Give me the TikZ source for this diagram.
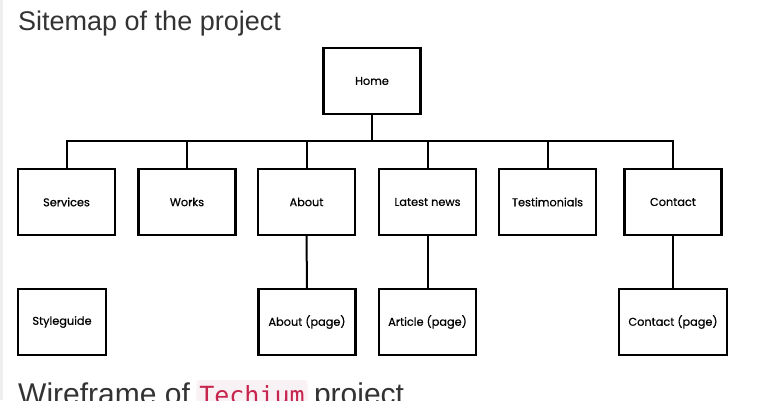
\documentclass[tikz,border=0pt]{standalone}
\usepackage{fontspec}
\setmainfont{Liberation Sans}
\newfontfamily\boxfont[FakeBold=0.6]{Poppins}
\newfontfamily\codefont{DejaVu Sans Mono}
\usetikzlibrary{positioning}
\definecolor{headgray}{HTML}{333333}
\definecolor{codered}{HTML}{C7254E}
\definecolor{codebg}{HTML}{F9F2F4}
\definecolor{rulegray}{HTML}{EEEEEE}
\begin{document}
\begin{tikzpicture}[x=1pt, y=-1pt,
        page/.style={draw, line width=2.2pt, minimum width=97pt, minimum height=66pt, font=\boxfont\fontsize{11.3}{13}\selectfont, align=center, inner sep=0pt},
        link/.style={line width=2pt},
        heading/.style={font=\fontsize{27}{30}\selectfont, text=headgray, inner sep=0pt},
        code/.style={font=\codefont\fontsize{25}{28}\selectfont, text=codered, fill=codebg, rounded corners=3pt, inner xsep=3pt, inner ysep=5pt}
    ]
        \clip (0,0) rectangle (760,400);
        \fill[white] (0,0) rectangle (760,400);
        \fill[rulegray] (0,0) rectangle (3,400);

        % Titles
        \node[heading, anchor=base west] (sitemap) at (18,30) {Sitemap of the project};
        \node[heading, font=\fontsize{30}{33}\selectfont, anchor=base west] (wire) at (18,404) {Wireframe of};
        \node[code, anchor=base west] (techium) at ([xshift=6pt]wire.base east) {Techium};
        \node[heading, font=\fontsize{30}{33}\selectfont, anchor=base west] (proj) at ([xshift=6pt]techium.base east) {project};

        % Root
        \node[page] (home) at (372,81) {Home};
        \coordinate (bar) at (372,141);

        % Level 1 pages
        \node[page] (services) at (66.5,202) {Services};
        \node[page] (works) at (187,202) {Works};
        \node[page] (about) at (306.5,202) {About};
        \node[page] (news) at (427.5,202) {Latest news};
        \node[page] (testimonials) at (547.5,202) {Testimonials};
        \node[page] (contact) at (673,202) {Contact};

        % Level 2 pages
        \node[page, minimum width=88pt] (styleguide) at (62,322) {Styleguide};
        \node[page] (aboutpage) at (307,322) {About (page)};
        \node[page] (article) at (427.5,322) {Article (page)};
        \node[page, minimum width=108pt] (contactpage) at (673,322) {Contact (page)};

        % Tree
        \draw[link] (home) -- (bar);
        \draw[link] (services.north) |- (bar);
        \draw[link] (works.north) |- (bar);
        \draw[link] (about.north) |- (bar);
        \draw[link] (news.north) |- (bar);
        \draw[link] (testimonials.north) |- (bar);
        \draw[link] (contact.north) |- (bar);

        \draw[link] (about) -- (aboutpage);
        \draw[link] (news) -- (article);
        \draw[link] (contact) -- (contactpage);
    \end{tikzpicture}
\end{document}
